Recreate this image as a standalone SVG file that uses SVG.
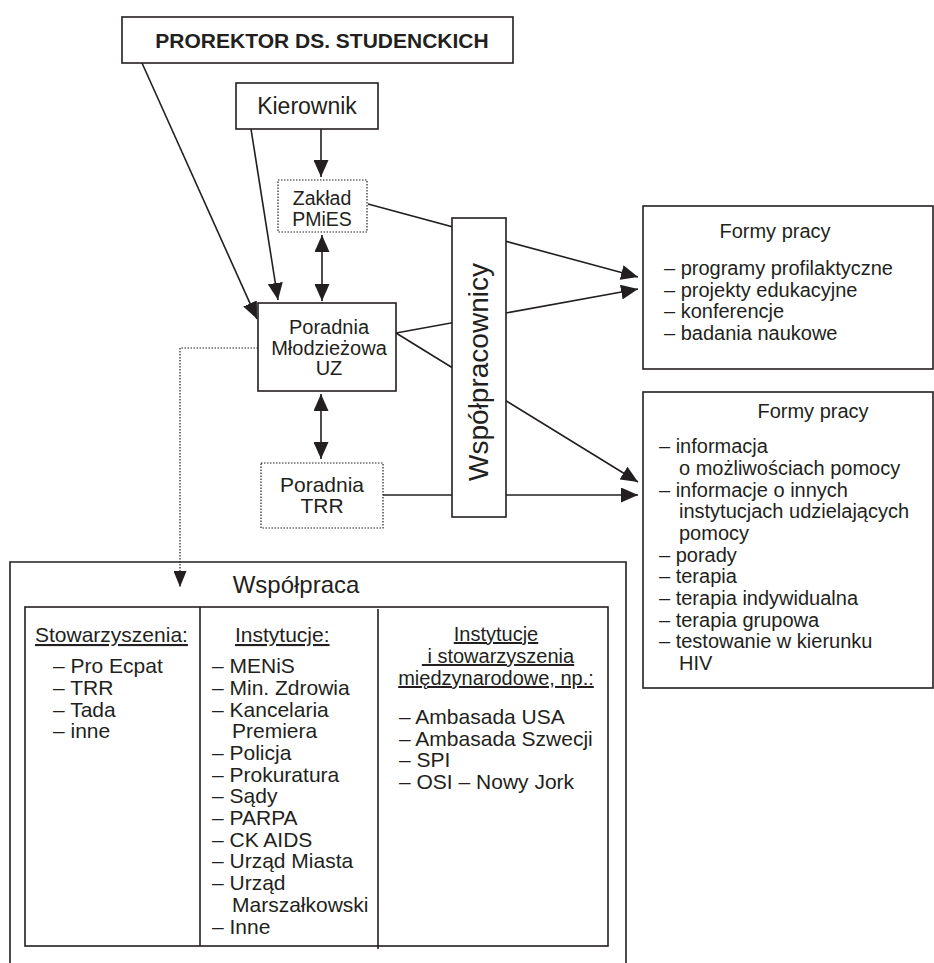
<svg xmlns="http://www.w3.org/2000/svg" width="934" height="963" viewBox="0 0 934 963">
<style>
.box{fill:#fff;stroke:#231f20;stroke-width:1.6}
.dot{fill:#fff;stroke:#231f20;stroke-width:1.2;stroke-dasharray:1.5 1.5}
.ln{fill:none;stroke:#231f20;stroke-width:1.6}
.dl{fill:none;stroke:#231f20;stroke-width:1.2;stroke-dasharray:1.5 1.5}
text{font-family:"Liberation Sans",Arial,sans-serif;fill:#231f20;font-size:20px}
.c{text-anchor:middle}
.u{text-decoration:underline}
.t{font-size:21px}
.s{font-size:19.5px}
</style>
<defs>
<marker id="ah" viewBox="0 0 17 15" refX="17" refY="7.5" markerWidth="17" markerHeight="15" markerUnits="userSpaceOnUse" orient="auto-start-reverse"><path d="M0,0 L17,7.5 L0,15 z" fill="#231f20"/></marker>
<marker id="ahs" viewBox="0 0 16 13" refX="16" refY="6.5" markerWidth="16" markerHeight="13" markerUnits="userSpaceOnUse" orient="auto"><path d="M0,0 L16,6.5 L0,13 z" fill="#231f20"/></marker>
</defs>

<g id="connectors">
<line class="ln" x1="142" y1="63" x2="257" y2="319" marker-end="url(#ah)"/>
<line class="ln" x1="251" y1="129" x2="278" y2="300" marker-end="url(#ah)"/>
<line class="ln" x1="321" y1="129" x2="321" y2="177" marker-end="url(#ah)"/>
<line class="ln" x1="322" y1="235" x2="322" y2="301" marker-start="url(#ah)" marker-end="url(#ah)"/>
<line class="ln" x1="321" y1="394" x2="321" y2="459" marker-start="url(#ah)" marker-end="url(#ah)"/>
<line class="ln" x1="368" y1="204" x2="638" y2="277" marker-end="url(#ah)"/>
<line class="ln" x1="396" y1="333" x2="638" y2="289" marker-end="url(#ah)"/>
<line class="ln" x1="396" y1="333" x2="638" y2="482" marker-end="url(#ah)"/>
<line class="ln" x1="383" y1="495" x2="638" y2="495" marker-end="url(#ah)"/>
<path class="dl" d="M258,348 H180 V587" marker-end="url(#ahs)"/>
</g>

<g id="prorektor">
<rect class="box" x="122" y="17" width="391" height="46"/>
<text class="c" x="322" y="48" style="font-weight:bold;font-size:21px">PROREKTOR DS. STUDENCKICH</text>
</g>

<g id="kierownik">
<rect class="box" x="236" y="83" width="142" height="46"/>
<text class="c" x="307" y="114" style="font-size:23px">Kierownik</text>
</g>

<g id="zaklad">
<rect class="dot" x="278" y="180" width="89" height="52"/>
<text class="c s" x="322" y="205">Zakład</text>
<text class="c s" x="322" y="226">PMiES</text>
</g>

<g id="poradnia-mlodziezowa">
<rect class="box" x="258" y="303" width="138" height="88"/>
<text class="c" x="329" y="334">Poradnia</text>
<text class="c" x="329" y="354.5">Młodzieżowa</text>
<text class="c" x="329" y="375">UZ</text>
</g>

<g id="poradnia-trr">
<rect class="dot" x="261" y="463" width="122" height="65"/>
<text class="c t" x="322" y="492">Poradnia</text>
<text class="c t" x="322" y="513">TRR</text>
</g>

<g id="wspolpracownicy">
<rect class="box" x="452" y="218" width="54" height="299"/>
<text class="c" transform="translate(488,372) rotate(-90)" style="font-size:28px">Współpracownicy</text>
</g>

<g id="formy-pracy-1">
<rect class="box" x="643" y="206" width="290" height="163"/>
<text class="c" x="775" y="238">Formy pracy</text>
<text x="664" y="275">– programy profilaktyczne</text>
<text x="664" y="296.5">– projekty edukacyjne</text>
<text x="664" y="318">– konferencje</text>
<text x="664" y="339.5">– badania naukowe</text>
</g>

<g id="formy-pracy-2">
<rect class="box" x="643" y="392" width="290" height="296"/>
<text class="c" x="813" y="418">Formy pracy</text>
<text x="659" y="453">– informacja</text>
<text x="679" y="475">o możliwościach pomocy</text>
<text x="659" y="496.5">– informacje o innych</text>
<text x="679" y="518">instytucjach udzielających</text>
<text x="679" y="540">pomocy</text>
<text x="659" y="561.5">– porady</text>
<text x="659" y="583">– terapia</text>
<text x="659" y="605">– terapia indywidualna</text>
<text x="659" y="626.5">– terapia grupowa</text>
<text x="659" y="648">– testowanie w kierunku</text>
<text x="679" y="670">HIV</text>
</g>

<g id="wspolpraca">
<path class="ln" d="M10,963 V562 H626 V963"/>
<text class="c" x="296" y="593" style="font-size:24px">Współpraca</text>
<rect class="box" x="25" y="607" width="583" height="339" style="fill:none"/>
<line class="ln" x1="200" y1="607" x2="200" y2="946"/>
<line class="ln" x1="378" y1="609" x2="378" y2="949"/>
<g class="t">
<text class="u t" x="35" y="642">Stowarzyszenia:</text>
<text class="t" x="53" y="673">– Pro Ecpat</text>
<text class="t" x="53" y="695">– TRR</text>
<text class="t" x="53" y="717">– Tada</text>
<text class="t" x="53" y="738">– inne</text>

<text class="u t" x="235" y="642">Instytucje:</text>
<text class="t" x="212" y="673">– MENiS</text>
<text class="t" x="212" y="695">– Min. Zdrowia</text>
<text class="t" x="212" y="717">– Kancelaria</text>
<text class="t" x="232" y="738">Premiera</text>
<text class="t" x="212" y="760">– Policja</text>
<text class="t" x="212" y="782">– Prokuratura</text>
<text class="t" x="212" y="803">– Sądy</text>
<text class="t" x="212" y="825">– PARPA</text>
<text class="t" x="212" y="847">– CK AIDS</text>
<text class="t" x="212" y="868">– Urząd Miasta</text>
<text class="t" x="212" y="890">– Urząd</text>
<text class="t" x="232" y="912">Marszałkowski</text>
<text class="t" x="212" y="934">– Inne</text>

<text class="u c" x="496" y="641">Instytucje</text>
<text class="u c" x="498" y="663">&#160;i stowarzyszenia</text>
<text class="u c" x="496" y="685">międzynarodowe, np.:</text>
<text class="t" x="399" y="724">– Ambasada USA</text>
<text class="t" x="399" y="746">– Ambasada Szwecji</text>
<text class="t" x="399" y="767">– SPI</text>
<text class="t" x="399" y="789">– OSI – Nowy Jork</text>
</g>
</g>
</svg>
